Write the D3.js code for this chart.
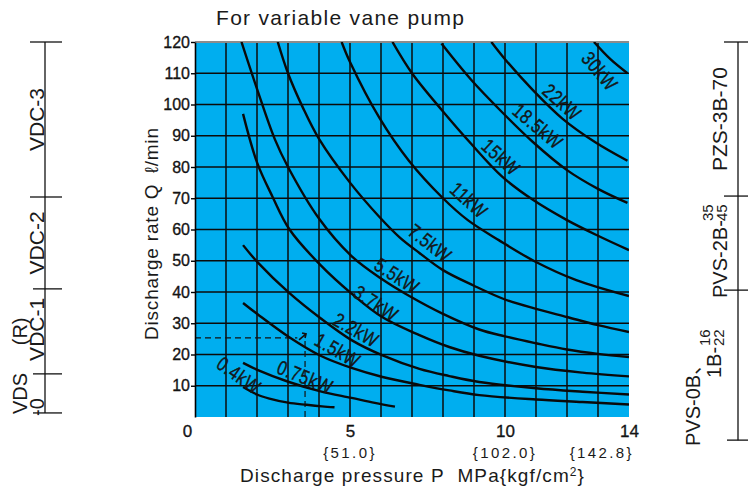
<!DOCTYPE html>
<html>
<head>
<meta charset="utf-8">
<script src="https://cdn.jsdelivr.net/npm/d3@7"></script>
<style>
  body { margin: 0; background: #fff; }
  svg text { font-family: "Liberation Sans", Arial, "Noto Sans CJK JP", sans-serif; fill: #1a1a1a; }
</style>
</head>
<body>
<div id="container"></div>
<script>
// ---- data ----
const kwLabels = ["0.4kW", "0.75kW", "1.5kW", "2.2kW", "3.7kW", "5.5kW", "7.5kW", "11kW", "15kW", "18.5kW", "22kW", "30kW"]

// [pressure MPa, discharge l/min]
const curve0_4 = [[1.55, 9.6], [2.0, 7.2], [2.4, 5.9], [3.0, 4.6], [3.6, 3.9], [4.1, 3.4], [4.5, 3.1]]
const curve0_75 = [[1.55, 17.3], [2.03, 15], [3.03, 11.2], [4.05, 8.2], [5.05, 6.1], [5.8, 4.5], [6.45, 3.3]]
const curve1_5 = [[1.55, 36.5], [2.03, 32.8], [3.03, 25.6], [4.05, 19.6], [5.05, 15.7], [6.05, 12.8], [7.24, 10.3], [8.2, 8.5], [9.17, 7.0], [11, 5.6], [12.5, 4.8], [14, 4.0]]
const curve2_2 = [[1.55, 55], [2.03, 49.4], [3.03, 39.8], [4.05, 31.6], [5.05, 24.6], [6.05, 19.7], [7.24, 15.4], [8.2, 13.1], [9.17, 11.2], [11, 9.2], [12.5, 8.1], [14, 7.2]]
const curve3_7 = [[1.55, 97], [2.0, 81.5], [2.5, 70.5], [3.05, 60], [4.05, 48.6], [5.05, 39.5], [6.05, 31.9], [7.24, 26.2], [8.2, 22.4], [9.17, 19.6], [11, 16], [12.5, 14.2], [14, 13]]
const curve5_5 = [[1.5, 120], [2.0, 105], [2.57, 89], [3.0, 80], [4.0, 63.5], [5.05, 51.5], [6.05, 44], [6.9, 38.8], [8.0, 33], [9.17, 28], [10, 25.8], [11, 23.6], [12, 21.6], [13, 20.2], [14, 19.2]]
const curve7_5 = [[2.67, 120], [3.0, 110], [3.48, 99], [4.0, 89], [5.0, 75], [5.95, 64], [6.6, 57.5], [7.24, 52.5], [8.0, 47], [9.0, 42], [10, 37.6], [11, 34.6], [12, 32], [13, 29.4], [14, 27.2]]
const curve11 = [[4.73, 120], [5.0, 113.6], [5.95, 95.7], [6.9, 82], [8.0, 70], [8.8, 63], [9.8, 56.6], [11, 49.6], [12.3, 43.8], [14, 38.7]]
const curve15 = [[6.37, 120], [7.0, 110], [7.98, 98], [8.9, 87.5], [9.9, 77], [10.9, 69.5], [12, 63], [13, 58], [14, 53.4]]
const curve18_5 = [[7.95, 119.5], [8.9, 108], [9.9, 97.6], [10.9, 88], [12.0, 79], [13.0, 73], [13.95, 68.5]]
const curve22 = [[9.56, 120], [10.0, 114.5], [10.9, 104.6], [11.85, 95.5], [12.9, 88], [13.95, 82]]
const curve30 = [[12.87, 120], [13.4, 114.5], [13.95, 110]]

const curves = [curve0_4, curve0_75, curve1_5, curve2_2, curve3_7, curve5_5, curve7_5, curve11, curve15, curve18_5, curve22, curve30]

const yTicks = [10, 20, 30, 40, 50, 60, 70, 80, 90, 100, 110, 120]
const xTicks = [0, 5, 10, 14]
const kgfTicks = ["", "{51.0}", "{102.0}", "{142.8}"]
const examplePoint = [3.55, 25.3]

const leftModels = ["VDC-3", "VDC-2", "VDC-1", "VDS"]
const leftBounds = [120, 70.4, 41, 13.8, 1.3]
const rightModels = ["PZS-3B-70", "PVS-2B-", "PVS-0B、"]
const rightBounds = [120, 70.7, 40.6, -7.4]

// label placement on the chart [P, Q, angle]
const labelSpots = [[1.42, 13.4, 35], [3.55, 12.8, 22], [4.6, 21.4, 30], [5.2, 27.9, 30], [5.84, 36.4, 33], [6.52, 45.2, 33],
                    [7.58, 55.7, 38], [8.84, 69.4, 42], [9.87, 83.2, 42], [11.06, 93.1, 40], [11.84, 100.8, 42], [13.06, 110.7, 50]]

// ---- chart ----
const width = 748
const height = 493

const svg = d3.select("#container").append("svg")
    .attr("width", width)
    .attr("height", height)

const x = d3.scaleLinear().domain([0, 14]).range([195, 629])
const y = d3.scaleLinear().domain([0, 120]).range([417, 42])

svg.append("text")
    .attr("x", 216).attr("y", 25)
    .attr("font-size", 21)
    .attr("letter-spacing", 1.3)
    .text("For variable vane pump")

svg.append("defs").append("clipPath").attr("id", "plotclip")
    .append("rect")
    .attr("x", x(0)).attr("y", y(120))
    .attr("width", x(14) - x(0)).attr("height", y(0) - y(120))

svg.append("rect")
    .attr("x", x(0)).attr("y", y(120))
    .attr("width", x(14) - x(0)).attr("height", y(0) - y(120))
    .attr("fill", "#00aeef")

const grid = svg.append("g").attr("stroke", "#0b0b0b").attr("stroke-width", 1.5)
grid.selectAll(".vg")
    .data(d3.range(1, 14))
    .enter().append("line")
    .attr("x1", d => x(d)).attr("x2", d => x(d))
    .attr("y1", y(0)).attr("y2", y(120))
grid.selectAll(".hg")
    .data(yTicks.filter(d => d < 120))
    .enter().append("line")
    .attr("x1", x(0)).attr("x2", x(14))
    .attr("y1", d => y(d)).attr("y2", d => y(d))

svg.append("line")
    .attr("x1", x(0)).attr("x2", x(14))
    .attr("y1", y(120)).attr("y2", y(120))
    .attr("stroke", "#8c8c8c").attr("stroke-width", 2)

// dashed example lines
const dash = svg.append("g").attr("stroke", "#111").attr("stroke-width", 1.2).attr("stroke-dasharray", "6,4")
dash.append("line")
    .attr("x1", x(0)).attr("x2", x(examplePoint[0] - 0.25))
    .attr("y1", y(examplePoint[1])).attr("y2", y(examplePoint[1]))
dash.append("line")
    .attr("x1", x(examplePoint[0])).attr("x2", x(examplePoint[0]))
    .attr("y1", y(0)).attr("y2", y(examplePoint[1] - 1))
const ex = x(examplePoint[0]), ey = y(examplePoint[1])
svg.append("path")
    .attr("d", `M${ex - 6},${ey + 2} L${ex + 1},${ey - 4} M${ex - 3},${ey - 5} L${ex + 1},${ey - 4} L${ex},${ey}`)
    .attr("fill", "none").attr("stroke", "#111").attr("stroke-width", 1.6)

const line = d3.line()
    .x(d => x(d[0]))
    .y(d => y(d[1]))
    .curve(d3.curveCatmullRom.alpha(0.5))

svg.append("g")
    .attr("clip-path", "url(#plotclip)")
    .selectAll("path")
    .data(curves)
    .enter().append("path")
    .attr("d", line)
    .attr("fill", "none")
    .attr("stroke", "#0a0a0a")
    .attr("stroke-width", 2.4)

svg.append("g")
    .selectAll("text")
    .data(kwLabels)
    .enter().append("text")
    .attr("transform", (d, i) => `translate(${x(labelSpots[i][0])},${y(labelSpots[i][1])}) rotate(${labelSpots[i][2]}) scale(0.8,1)`)
    .attr("text-anchor", "middle")
    .attr("dy", "0.36em")
    .attr("font-size", 20)
    .attr("letter-spacing", 0.8)
    .attr("fill", "#0a0a0a")
    .attr("stroke", "#0a0a0a")
    .attr("stroke-width", 0.35)
    .text(d => d)

// axes
svg.append("g")
    .attr("transform", `translate(${x(0)},0)`)
    .call(d3.axisLeft(y).tickValues(yTicks).tickSize(4).tickSizeOuter(0).tickPadding(1))
    .call(g => g.attr("font-family", null).attr("font-size", 16))
    .call(g => g.select(".domain").attr("stroke", "#000").attr("stroke-width", 1.6))
    .call(g => g.selectAll(".tick line").attr("stroke", "#000").attr("stroke-width", 1.4))
    .call(g => g.selectAll("text").attr("fill", "#000").attr("stroke", "#000").attr("stroke-width", 0.3))

svg.append("g")
    .attr("transform", `translate(0,${y(0)})`)
    .call(d3.axisBottom(x).tickValues(xTicks).tickSize(0).tickPadding(8))
    .call(g => g.attr("font-family", null).attr("font-size", 17))
    .call(g => g.select(".domain").remove())
    .call(g => g.selectAll("text").attr("fill", "#000").attr("stroke", "#000").attr("stroke-width", 0.3)
        .attr("dx", d => d === 0 ? -8 : 0))

svg.append("g")
    .selectAll("text")
    .data(kgfTicks)
    .enter().append("text")
    .attr("x", (d, i) => i === kgfTicks.length - 1 ? x(xTicks[i]) + 5 : x(xTicks[i]))
    .attr("y", 458)
    .attr("text-anchor", (d, i) => i === kgfTicks.length - 1 ? "end" : "middle")
    .attr("font-size", 15)
    .attr("letter-spacing", 2.4)
    .text(d => d)

svg.append("text")
    .attr("x", 240).attr("y", 482)
    .attr("font-size", 19)
    .attr("letter-spacing", 1.1)
    .html("Discharge pressure P&#160;&#160;MPa{kgf/cm<tspan font-size='12' dy='-6'>2</tspan><tspan dy='6'>}</tspan>")

svg.append("text")
    .attr("transform", "translate(158,340) rotate(-90)")
    .attr("font-size", 19)
    .attr("letter-spacing", 0.8)
    .text("Discharge rate Q\u2002\u2113/min")

// left series bar
const leftBar = svg.append("g").attr("stroke", "#111").attr("stroke-width", 1.3)
leftBar.append("line").attr("x1", 45).attr("x2", 45).attr("y1", y(leftBounds[0])).attr("y2", y(leftBounds[leftBounds.length - 1]))
leftBar.selectAll(".t").data(leftBounds).enter().append("line")
    .attr("x1", (d, i) => i < 2 ? 30 : 33).attr("x2", 62)
    .attr("y1", d => y(d)).attr("y2", d => y(d))

function vtext(px, py, txt, size, anchor) {
    return svg.append("text")
        .attr("transform", `translate(${px},${py}) rotate(-90)`)
        .attr("text-anchor", anchor || "middle")
        .attr("font-size", size)
        .text(txt)
}
vtext(44, (y(leftBounds[0]) + y(leftBounds[1])) / 2, leftModels[0], 21)
vtext(44, (y(leftBounds[1]) + y(leftBounds[2])) / 2, leftModels[1], 21)
vtext(44, (y(leftBounds[2]) + y(leftBounds[3])) / 2 - 2, leftModels[2], 21)
vtext(27, (y(leftBounds[2]) + y(leftBounds[3])) / 2, "(R)", 20)
vtext(27, 414, leftModels[3], 20, "start")
vtext(44, 416, "-0", 20, "start")

// right series bar
const rightBar = svg.append("g").attr("stroke", "#111").attr("stroke-width", 1.3)
rightBar.append("line").attr("x1", 738).attr("x2", 738).attr("y1", y(rightBounds[0])).attr("y2", y(rightBounds[rightBounds.length - 1]))
rightBar.selectAll(".t").data(rightBounds).enter().append("line")
    .attr("x1", (d, i) => i === rightBounds.length - 1 ? 727 : 724).attr("x2", 748)
    .attr("y1", d => y(d)).attr("y2", d => y(d))

vtext(727, (y(rightBounds[0]) + y(rightBounds[1])) / 2, rightModels[0], 21)
vtext(727, 298, rightModels[1], 20, "start")
vtext(713, 221, "35", 15, "start")
vtext(727, 221, "45", 15, "start")
vtext(700, 446, rightModels[2], 20, "start")
vtext(721, 378, "1B-", 20, "start")
vtext(710, 346, "16", 15, "start")
vtext(724, 346, "22", 15, "start")
</script>
</body>
</html>
